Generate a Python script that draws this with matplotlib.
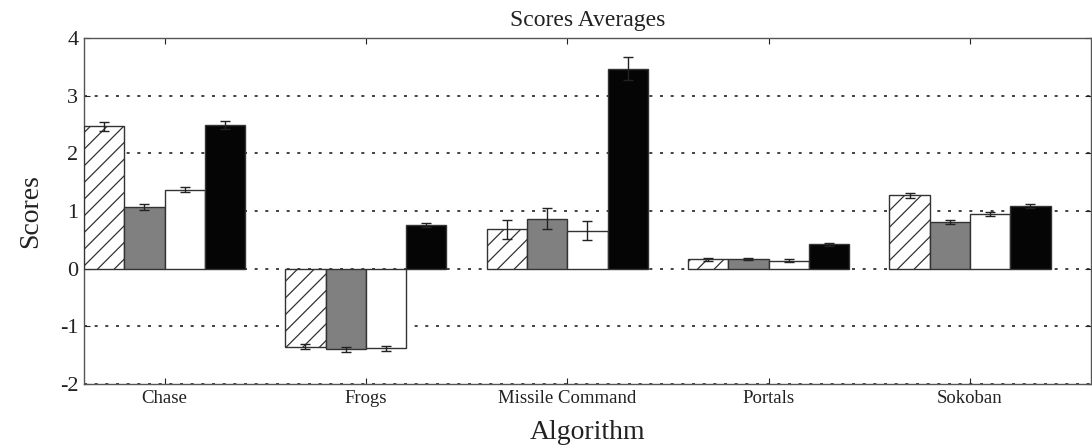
import matplotlib
matplotlib.use("Agg")
import matplotlib.pyplot as plt
import numpy as np

categories = ["Chase", "Frogs", "Missile Command", "Portals", "Sokoban"]
series_a = [2.47, -1.35, 0.68, 0.16, 1.27]   # hatched
series_b = [1.07, -1.40, 0.87, 0.17, 0.81]   # gray
series_c = [1.37, -1.38, 0.66, 0.14, 0.95]   # white
series_d = [2.49, 0.76, 3.47, 0.42, 1.09]    # black
err_a = [0.08, 0.04, 0.17, 0.02, 0.04]
err_b = [0.05, 0.04, 0.19, 0.02, 0.03]
err_c = [0.04, 0.04, 0.17, 0.02, 0.03]
err_d = [0.07, 0.03, 0.20, 0.02, 0.03]
yticks = [-2, -1, 0, 1, 2, 3, 4]

plt.rcParams['font.family'] = ['Liberation Serif', 'DejaVu Serif']
plt.rcParams['hatch.linewidth'] = 0.9

fig = plt.figure(figsize=(10.92, 4.45), dpi=100)
ax = fig.add_axes([0.0769, 0.137, 0.922, 0.7776])

x = np.arange(len(categories))
w = 0.2
edge = '#333333'
styles = [
    dict(facecolor='white', hatch='//'),
    dict(facecolor='#808080'),
    dict(facecolor='white'),
    dict(facecolor='#050505'),
]
series = [series_a, series_b, series_c, series_d]
errs = [err_a, err_b, err_c, err_d]
for i, (vals, e, st) in enumerate(zip(series, errs, styles)):
    pos = x + (i - 1.5) * w
    ax.bar(pos, vals, width=w, edgecolor=edge, linewidth=1.0, zorder=3, **st)
    ax.errorbar(pos, vals, yerr=e, fmt='none', ecolor='#222222',
                elinewidth=1.0, capsize=3.5, capthick=1.0, zorder=4)

ax.set_xlim(-0.4, 4.6)
ax.set_ylim(-2, 4)
ax.set_yticks(yticks)
ax.set_yticklabels([str(t) for t in yticks])
ax.set_xticks(x)
ax.set_xticklabels(categories)
ax.yaxis.grid(True, linestyle=(0, (1.8, 4.6)), color='#222222', linewidth=1.2, zorder=1)
ax.set_axisbelow(True)
ax.tick_params(axis='both', direction='in', top=True, right=True, length=4,
               labelsize=13.5, colors='#222222', labelcolor='#222222', pad=4)
ax.tick_params(axis='y', labelsize=16)
for s in ax.spines.values():
    s.set_color('#555555')
    s.set_linewidth(1.0)

ax.set_title("Scores Averages", fontsize=17, color='#222222', pad=9)
ax.set_xlabel("Algorithm", fontsize=20, color='#222222', labelpad=10)
ax.set_ylabel("Scores", fontsize=20, color='#222222', labelpad=12)

fig.savefig("out.png", dpi=100)
